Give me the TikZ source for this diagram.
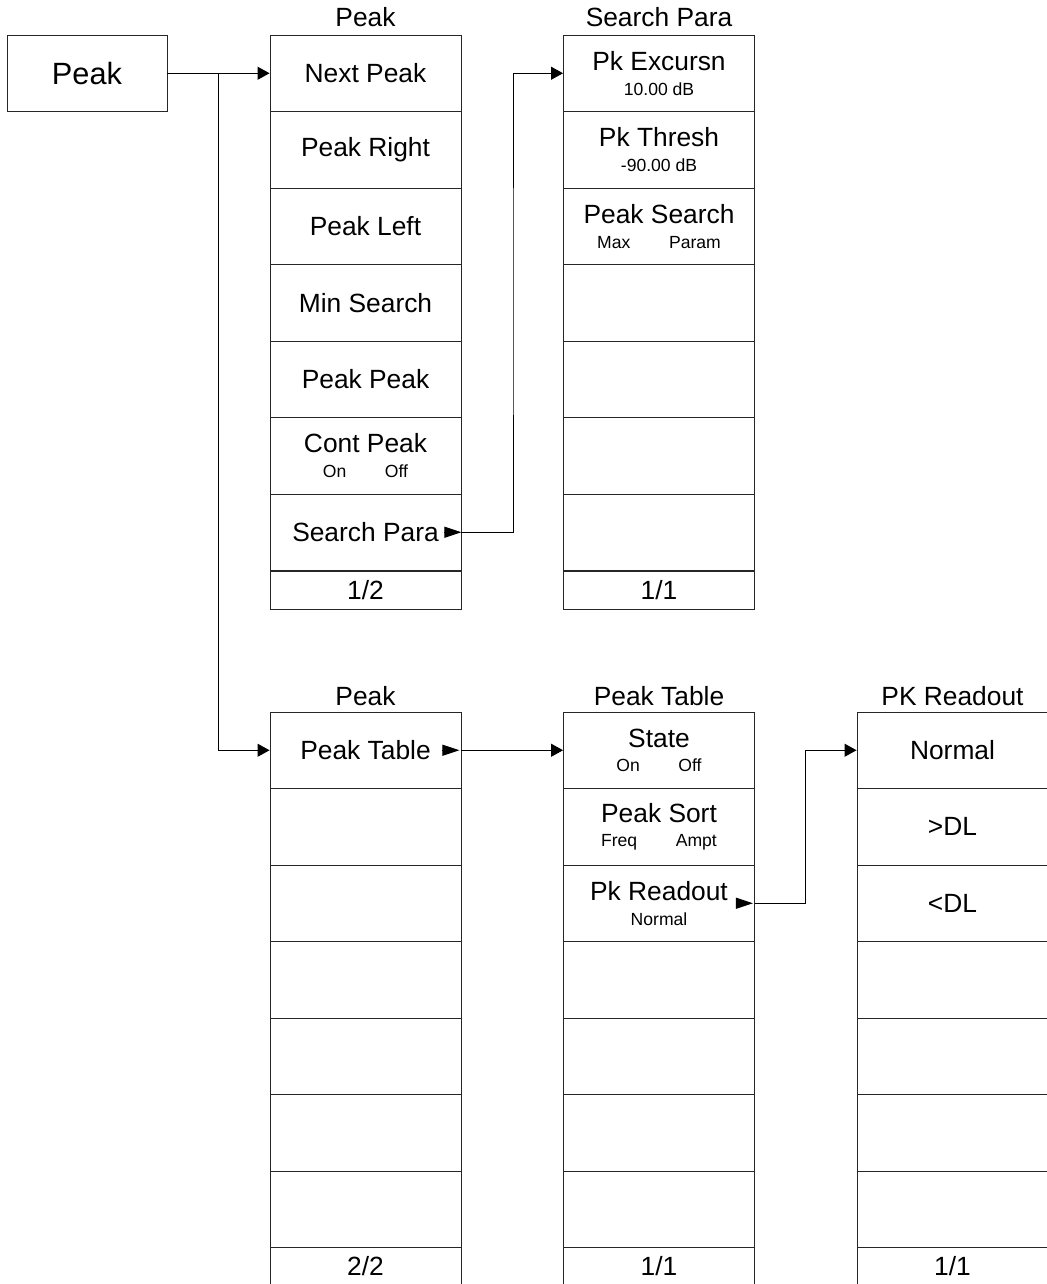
\documentclass[tikz,border=0pt]{standalone}
\usepackage{fontspec}
\setmainfont{Liberation Sans}
\usetikzlibrary{arrows.meta, positioning}

\tikzset{
  key/.style={rectangle, draw=black!85, line width=0.55pt, minimum width=3.82cm, minimum height=1.53cm,
    inner sep=0pt, align=center, font=\fontsize{15}{17}\selectfont},
  pagekey/.style={key, minimum height=0.76cm},
  title/.style={anchor=base, inner sep=0pt, font=\fontsize{15}{17}\selectfont},
  arr/.style={line width=0.55pt, -{Triangle[length=0.24cm,width=0.26cm]}},
  keymark/.style={line width=0.55pt, -{Triangle[length=0.34cm,width=0.22cm]}}
}
\newcommand{\subtxt}[1]{\fontsize{10}{12}\selectfont #1}

\begin{document}
\begin{tikzpicture}[x=0.02cm, y=-0.02cm]
\useasboundingbox (0,0) rectangle (1047,1284);

% top level key
\node[key, minimum width=3.2cm, font=\fontsize{17.5}{20}\selectfont] (peak) at (87,73.25) {Peak};

% Peak menu, page 1
\node[title] (t1) at (365.5,27) {Peak};
\node[key] (pk1) at (365.5,73.25) {Next Peak};
\node[key] (pk2) at (365.5,149.75) {Peak Right};
\node[key] (pk3) at (365.5,226.25) {Peak Left};
\node[key] (pk4) at (365.5,302.75) {Min Search};
\node[key] (pk5) at (365.5,379.25) {Peak Peak};
\node[key] (pk6) at (365.5,455.75) {Cont Peak\\[-3pt]\subtxt{On\hspace{22pt}Off}};
\node[key] (pk7) at (365.5,532.25) {Search Para};
\node[pagekey] (pkpg) at (365.5,590) {1/2};

% Search Para menu
\node[title] (t2) at (659,27) {Search Para};
\node[key] (sp1) at (659,73.25) {Pk Excursn\\[-3pt]\subtxt{10.00 dB}};
\node[key] (sp2) at (659,149.75) {Pk Thresh\\[-3pt]\subtxt{-90.00 dB}};
\node[key] (sp3) at (659,226.25) {Peak Search\\[-3pt]\subtxt{Max\hspace{22pt}Param}};
\foreach \i/\y in {4/302.75, 5/379.25, 6/455.75, 7/532.25}
  \node[key] (sp\i) at (659,\y) {};
\node[pagekey] (sppg) at (659,590) {1/1};

% Peak menu, page 2
\node[title] (t3) at (365.5,705) {Peak};
\node[key] (pb1) at (365.5,750.25) {Peak Table};
\foreach \i/\y in {2/826.75, 3/903.25, 4/979.75, 5/1056.25, 6/1132.75, 7/1209.25}
  \node[key] (pb\i) at (365.5,\y) {};
\node[pagekey] (pbpg) at (365.5,1266) {2/2};

% Peak Table menu
\node[title] (t4) at (659,705) {Peak Table};
\node[key] (tb1) at (659,750.25) {State\\[-3pt]\subtxt{On\hspace{22pt}Off}};
\node[key] (tb2) at (659,826.75) {Peak Sort\\[-3pt]\subtxt{Freq\hspace{22pt}Ampt}};
\node[key] (tb3) at (659,903.25) {Pk Readout\\[-3pt]\subtxt{Normal}};
\foreach \i/\y in {4/979.75, 5/1056.25, 6/1132.75, 7/1209.25}
  \node[key] (tb\i) at (659,\y) {};
\node[pagekey] (tbpg) at (659,1266) {1/1};

% PK Readout menu
\node[title] (t5) at (952.5,705) {PK Readout};
\node[key] (rd1) at (952.5,750.25) {Normal};
\node[key] (rd2) at (952.5,826.75) {>DL};
\node[key] (rd3) at (952.5,903.25) {<DL};
\foreach \i/\y in {4/979.75, 5/1056.25, 6/1132.75, 7/1209.25}
  \node[key] (rd\i) at (952.5,\y) {};
\node[pagekey] (rdpg) at (952.5,1266) {1/1};

% submenu markers
\coordinate (m1) at ([xshift=-0.34cm]pk7.east);
\coordinate (m2) at ([xshift=-0.38cm]pb1.east);
\coordinate (m3) at ([xshift=-0.38cm]tb3.east);
\draw[keymark] (m1) -- (pk7.east);
\draw[keymark] (m2) -- ([xshift=-0.04cm]pb1.east);
\draw[keymark] (m3) -- ([xshift=-0.04cm]tb3.east);

% connectors
\coordinate (split) at (218,73.25);
\coordinate (j1) at (513,300);
\coordinate (j2) at (805,830);
\draw[arr] (peak.east) -- (pk1.west);
\draw[arr] (split) |- (pb1.west);
\draw[arr] (pk7.east) -| (j1) |- (sp1.west);
\draw[arr] (pb1.east) -- (tb1.west);
\draw[arr] (tb3.east) -| (j2) |- (rd1.west);

\end{tikzpicture}
\end{document}
